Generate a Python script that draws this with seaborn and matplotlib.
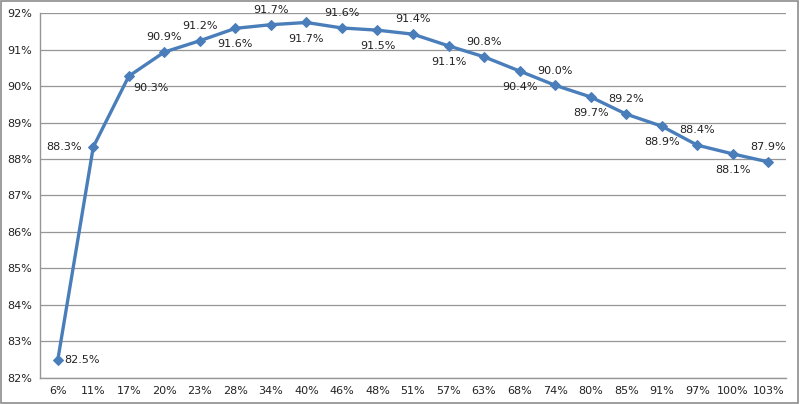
import matplotlib
matplotlib.use("Agg")
import matplotlib.pyplot as plt
import seaborn as sns
import pandas as pd
from matplotlib.ticker import FuncFormatter

categories = ["6%", "11%", "17%", "20%", "23%", "28%", "34%", "40%", "46%", "48%",
              "51%", "57%", "63%", "68%", "74%", "80%", "85%", "91%", "97%", "100%", "103%"]
values = [82.49, 88.33, 90.27, 90.93, 91.24, 91.58, 91.68, 91.74, 91.59, 91.53,
          91.42, 91.10, 90.80, 90.41, 90.02, 89.70, 89.23, 88.90, 88.38, 88.14, 87.92]
label_pos = ["right", "left", "belowright", "above", "above", "below", "above", "below", "above", "below",
             "above", "below", "above", "below", "above", "below", "above", "below", "above", "below", "above"]

sns.set_theme(style="white")
plt.rcParams['font.family'] = ['DejaVu Sans']

df = pd.DataFrame({"cat": categories, "val": values})

fig = plt.figure(figsize=(8, 4.04), dpi=100)
ax = fig.add_axes([0.05, 0.0644, 0.9325, 0.9034])

color = "#4A7EBB"
sns.lineplot(data=df, x="cat", y="val", ax=ax, color=color, linewidth=2.4,
             marker="D", markersize=5.5, markeredgecolor=color, sort=False)

ax.set_xlim(-0.5, len(categories) - 0.5)
ax.set_ylim(82, 92)
ax.set_yticks(range(82, 93))
ax.yaxis.set_major_formatter(FuncFormatter(lambda v, p: f"{int(round(v))}%"))
ax.grid(axis="y", color="#969696", linewidth=0.9)
ax.set_axisbelow(True)
ax.set_xlabel("")
ax.set_ylabel("")
for s in ["top", "right"]:
    ax.spines[s].set_visible(False)
for s in ["left", "bottom"]:
    ax.spines[s].set_color("#969696")
    ax.spines[s].set_linewidth(1.0)
ax.tick_params(axis="both", labelsize=8, colors="#222222", length=0, pad=6)

for i, (v, pos) in enumerate(zip(values, label_pos)):
    txt = f"{v:.1f}%"
    kw = dict(textcoords="offset points", fontsize=8, color="#222222")
    if pos == "above":
        ax.annotate(txt, (i, v), xytext=(0, 7), ha="center", va="bottom", **kw)
    elif pos == "below":
        ax.annotate(txt, (i, v), xytext=(0, -8), ha="center", va="top", **kw)
    elif pos == "belowright":
        ax.annotate(txt, (i, v), xytext=(3, -5), ha="left", va="top", **kw)
    elif pos == "right":
        ax.annotate(txt, (i, v), xytext=(5, 0), ha="left", va="center", **kw)
    else:
        ax.annotate(txt, (i, v), xytext=(-8, 0), ha="right", va="center", **kw)

border = plt.Rectangle((0.001, 0.002), 0.997, 0.995, transform=fig.transFigure,
                       fill=False, edgecolor="#8c8c8c", linewidth=1.2)
fig.patches.append(border)

fig.savefig("out.png", dpi=100)
